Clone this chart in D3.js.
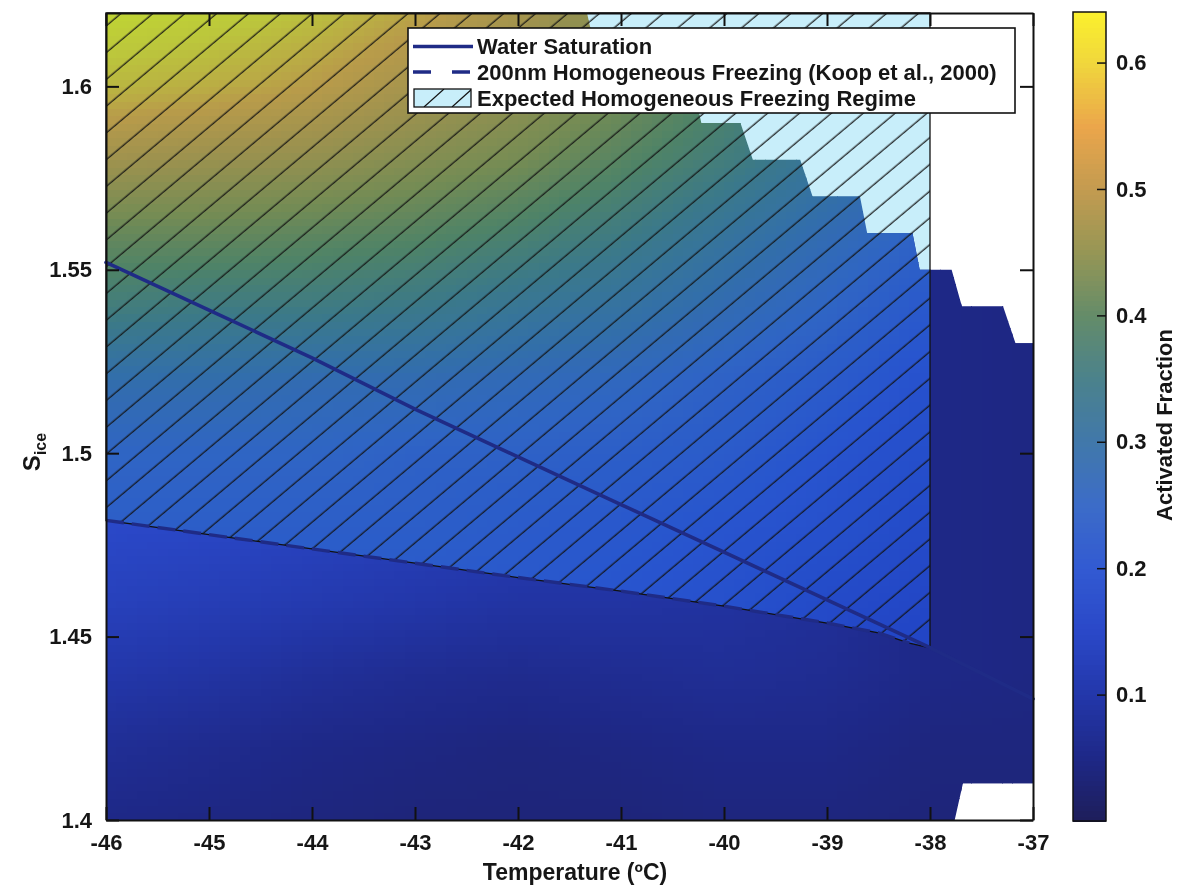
<!DOCTYPE html>
<html>
<head>
<meta charset="utf-8">
<script src="https://cdn.jsdelivr.net/npm/d3@7"></script>
<style>
  html, body { margin: 0; padding: 0; background: #ffffff; }
  svg { display: block; isolation: isolate; }
  text { font-family: "Liberation Sans", Arial, Helvetica, sans-serif; font-weight: bold; fill: #161616; }
</style>
</head>
<body>
<svg id="chart" width="1178" height="885"></svg>
<script>
// ---------------- data ----------------
// Node grid of the activated-fraction field (temperature in °C, ice saturation ratio)
const gridT = [-46, -45, -44, -43, -42, -41, -40, -39, -38, -37];
const gridS = [1.40, 1.42, 1.44, 1.46, 1.48, 1.50, 1.52, 1.54, 1.56];
// Activated fraction outside the homogeneous freezing regime (one row per gridS value)
const afOutside = [
  [0.050, 0.045, 0.040, 0.035, 0.035, 0.035, 0.040, 0.040, 0.035, 0.035],
  [0.070, 0.060, 0.050, 0.045, 0.040, 0.045, 0.050, 0.050, 0.040, 0.040],
  [0.100, 0.090, 0.075, 0.065, 0.060, 0.065, 0.070, 0.065, 0.050, 0.045],
  [0.130, 0.120, 0.110, 0.100, 0.090, 0.090, 0.085, 0.075, 0.050, 0.045],
  [0.150, 0.145, 0.135, 0.125, 0.115, 0.105, 0.095, 0.080, 0.050, 0.045],
  [0.170, 0.160, 0.150, 0.140, 0.130, 0.120, 0.105, 0.090, 0.050, 0.045],
  [0.180, 0.170, 0.160, 0.150, 0.140, 0.130, 0.110, 0.090, 0.050, 0.045],
  [0.190, 0.180, 0.170, 0.160, 0.150, 0.140, 0.120, 0.090, 0.050, 0.045],
  [0.200, 0.190, 0.180, 0.170, 0.160, 0.150, 0.130, 0.100, 0.050, 0.045]
];
// Activated fraction inside the expected homogeneous freezing regime
const regimeT = [-46, -45, -44, -43, -42, -41, -40, -39, -38];
const regimeS = [1.44, 1.46, 1.48, 1.50, 1.52, 1.54, 1.56, 1.58, 1.60, 1.62];
const afRegime = [
  [0.19, 0.19, 0.19, 0.19, 0.19, 0.18, 0.17, 0.16, 0.15],
  [0.21, 0.21, 0.21, 0.21, 0.21, 0.20, 0.19, 0.17, 0.16],
  [0.23, 0.23, 0.23, 0.23, 0.22, 0.21, 0.20, 0.19, 0.17],
  [0.25, 0.25, 0.25, 0.24, 0.24, 0.23, 0.22, 0.20, 0.18],
  [0.29, 0.29, 0.28, 0.28, 0.27, 0.26, 0.24, 0.22, 0.19],
  [0.37, 0.36, 0.36, 0.35, 0.33, 0.31, 0.28, 0.25, 0.21],
  [0.43, 0.43, 0.42, 0.41, 0.39, 0.36, 0.32, 0.28, 0.24],
  [0.51, 0.50, 0.49, 0.47, 0.45, 0.41, 0.37, 0.32, 0.28],
  [0.58, 0.57, 0.55, 0.52, 0.49, 0.45, 0.40, 0.35, 0.31],
  [0.62, 0.61, 0.59, 0.56, 0.52, 0.47, 0.41, 0.36, 0.32]
];

// Upper edge of the measured domain: one step per ice-saturation level
const stepS      = [1.62, 1.61, 1.60, 1.59, 1.58, 1.57, 1.56, 1.55, 1.54, 1.53];
const stepStartT = [-46.00, -41.25, -40.74, -40.22, -39.72, -39.14, -38.61, -38.10, -37.69, -37.17];
const stepEndT   = [-41.33, -40.82, -40.30, -39.84, -39.26, -38.68, -38.17, -37.79, -37.29, -37.00];
// Lower-right corner without measurements
const notchT = [-37.00, -37.68, -37.76];
const notchS = [1.41, 1.41, 1.40];

// Water saturation line
const wsT = [-46, -45, -44, -43, -42, -41, -40, -39, -38, -37];
const wsS = [1.552, 1.539, 1.526, 1.512, 1.499, 1.486, 1.473, 1.460, 1.447, 1.433];

// 200 nm homogeneous freezing threshold (Koop et al., 2000)
const koopT = [-46, -45, -44, -43, -42, -41, -40, -39, -38.5, -38.2];
const koopS = [1.4817, 1.4778, 1.4739, 1.4700, 1.4661, 1.4624, 1.4583, 1.4537, 1.4510, 1.4482];
// Warm limit of the homogeneous freezing regime
const regimeWarmT = -38;
const regimeWarmBottomS = 1.4469;

// Axis ticks
const xTicks = [-46, -45, -44, -43, -42, -41, -40, -39, -38, -37];
const yTicks = [1.40, 1.45, 1.50, 1.55, 1.60];
const cbTicks = [0.1, 0.2, 0.3, 0.4, 0.5, 0.6];

// Colour map (value stops and colours)
const cmapValues = [0.00, 0.05, 0.10, 0.15, 0.20, 0.25, 0.30, 0.35, 0.40, 0.45, 0.50, 0.55, 0.60, 0.64];
const cmapColors = ["#1e1e5a", "#1e2887", "#2337aa", "#2a48c8", "#325ad2", "#3c6cc8", "#4178aa",
                    "#4b828c", "#648c69", "#969655", "#c39b50", "#eba64b", "#f0d73c", "#faf02d"];

const legendLabels = ["Water Saturation", "200nm Homogeneous Freezing (Koop et al., 2000)", "Expected Homogeneous Freezing Regime"];

// ---------------- layout ----------------
const svg = d3.select("#chart");
const plot = { left: 106, right: 1033, top: 13, bottom: 820 };
const x = d3.scaleLinear().domain([-46, -37]).range([plot.left, plot.right]);
const y = d3.scaleLinear().domain([1.40, 1.62]).range([plot.bottom, plot.top]);
const color = d3.scaleLinear().domain(cmapValues).range(cmapColors)
  .interpolate(d3.interpolateRgb).clamp(true);

const defs = svg.append("defs");
const lineGen = d3.line().x(d => x(d[0])).y(d => y(d[1]));

// measured-domain outline
const domainPts = [];
stepS.forEach((s, i) => { domainPts.push([stepStartT[i], s]); domainPts.push([stepEndT[i], s]); });
notchT.forEach((t, i) => domainPts.push([t, notchS[i]]));
domainPts.push([-46, 1.40]);
defs.append("clipPath").attr("id", "domainClip")
  .append("path").attr("d", lineGen(domainPts) + "Z");

// regime outline: top of axes, warm limit, then the Koop curve back to -46 °C
const regimePts = [[-46, 1.62], [regimeWarmT, 1.62], [regimeWarmT, regimeWarmBottomS]];
for (let i = koopT.length - 1; i >= 0; i--) regimePts.push([koopT[i], koopS[i]]);
const regimePath = lineGen(regimePts) + "Z";
defs.append("clipPath").attr("id", "regimeClip").append("path").attr("d", regimePath);

// hatch pattern
const hatch = defs.append("pattern").attr("id", "hatch")
  .attr("patternUnits", "userSpaceOnUse").attr("width", 12).attr("height", 20.5)
  .attr("patternTransform", "translate(106,13) rotate(-40)");
hatch.append("line").attr("x1", -1).attr("x2", 13).attr("y1", 10).attr("y2", 10)
  .attr("stroke", "#111").attr("stroke-width", 1.2);

// bilinear lookup on a node grid
function bilinear(tArr, sArr, grid, t, s) {
  let i = Math.max(0, Math.min(tArr.length - 2, d3.bisectRight(tArr, t) - 1));
  let j = Math.max(0, Math.min(sArr.length - 2, d3.bisectRight(sArr, s) - 1));
  const ft = Math.max(0, Math.min(1, (t - tArr[i]) / (tArr[i + 1] - tArr[i])));
  const fs = Math.max(0, Math.min(1, (s - sArr[j]) / (sArr[j + 1] - sArr[j])));
  const a = grid[j][i] * (1 - ft) + grid[j][i + 1] * ft;
  const b = grid[j + 1][i] * (1 - ft) + grid[j + 1][i + 1] * ft;
  return a * (1 - fs) + b * fs;
}

// interpolated shading as small cells
function shadeCells(t0, t1, s0, s1, dT, dS, tArr, sArr, grid) {
  const cells = [];
  const nT = Math.round((t1 - t0) / dT), nS = Math.round((s1 - s0) / dS);
  for (let a = 0; a < nT; a++) {
    for (let b = 0; b < nS; b++) {
      const ta = t0 + a * dT, sb = s0 + b * dS;
      cells.push({ t: ta, s: sb, v: bilinear(tArr, sArr, grid, ta + dT / 2, sb + dS / 2) });
    }
  }
  return cells;
}
const dT = 0.1, dS = 0.002;
function drawCells(g, cells) {
  g.selectAll("rect").data(cells).join("rect")
    .attr("x", d => x(d.t))
    .attr("y", d => y(d.s + dS))
    .attr("width", d => x(d.t + dT) - x(d.t) + 0.6)
    .attr("height", d => y(d.s) - y(d.s + dS) + 0.6)
    .attr("fill", d => color(d.v))
    .attr("shape-rendering", "crispEdges");
}

const field = svg.append("g").attr("clip-path", "url(#domainClip)");
drawCells(field.append("g"), shadeCells(-46, -37, 1.40, 1.56, dT, dS, gridT, gridS, afOutside));
drawCells(field.append("g").attr("clip-path", "url(#regimeClip)"),
  shadeCells(-46, -38, 1.44, 1.62, dT, dS, regimeT, regimeS, afRegime));

// regime patch: translucent light-cyan face, hatching, outline
svg.append("path").attr("d", regimePath).attr("fill", "#c8eefa")
  .style("mix-blend-mode", "multiply");
svg.append("path").attr("d", regimePath).attr("fill", "url(#hatch)");
svg.append("path").attr("d", regimePath).attr("fill", "none")
  .attr("stroke", "#111").attr("stroke-width", 1.3);

// threshold curves
const lineBlue = "#1f2b86";
svg.append("path").datum(koopT.map((t, i) => [t, koopS[i]]))
  .attr("d", lineGen).attr("fill", "none").attr("stroke", lineBlue)
  .attr("stroke-width", 3.4).attr("stroke-dasharray", "18,8");
svg.append("path").datum(wsT.map((t, i) => [t, wsS[i]]))
  .attr("d", lineGen).attr("fill", "none").attr("stroke", lineBlue)
  .attr("stroke-width", 3.6).attr("stroke-linecap", "round");

// ---------------- axes ----------------
const axisStyle = g => {
  g.select(".domain").attr("stroke", "#111").attr("stroke-width", 2);
  g.selectAll(".tick line").attr("stroke", "#111").attr("stroke-width", 2);
  g.selectAll(".tick text").attr("font-size", 22).attr("fill", "#161616");
};
svg.append("g").attr("transform", `translate(0,${plot.bottom})`)
  .call(d3.axisBottom(x).tickValues(xTicks).tickFormat(d => String(d))
    .tickSizeInner(-13).tickSizeOuter(0).tickPadding(14))
  .call(axisStyle);
svg.append("g").attr("transform", `translate(0,${plot.top})`)
  .call(d3.axisTop(x).tickValues(xTicks).tickFormat("").tickSizeInner(-13).tickSizeOuter(0))
  .call(axisStyle);
svg.append("g").attr("transform", `translate(${plot.left},0)`)
  .call(d3.axisLeft(y).tickValues(yTicks).tickFormat(d => String(+d.toFixed(2)))
    .tickSizeInner(-13).tickSizeOuter(0).tickPadding(14))
  .call(axisStyle);
svg.append("g").attr("transform", `translate(${plot.right},0)`)
  .call(d3.axisRight(y).tickValues(yTicks).tickFormat("").tickSizeInner(-13).tickSizeOuter(0))
  .call(axisStyle);

// axis titles
svg.append("text").attr("x", 575).attr("y", 880).attr("text-anchor", "middle")
  .attr("font-size", 23).text("Temperature (ºC)");
const yTitle = svg.append("text").attr("transform", "translate(40,452) rotate(-90)")
  .attr("text-anchor", "middle").attr("font-size", 24);
yTitle.append("tspan").text("S");
yTitle.append("tspan").attr("font-size", 16).attr("dy", 6).text("ice");

// ---------------- legend ----------------
const legend = svg.append("g");
legend.append("rect").attr("x", 408).attr("y", 28).attr("width", 607).attr("height", 85)
  .attr("fill", "#fff").attr("stroke", "#111").attr("stroke-width", 1.6);
const rowY = [46.5, 72, 98];
legend.append("line").attr("x1", 413).attr("x2", 473).attr("y1", rowY[0]).attr("y2", rowY[0])
  .attr("stroke", lineBlue).attr("stroke-width", 3.4);
legend.append("line").attr("x1", 413).attr("x2", 473).attr("y1", rowY[1]).attr("y2", rowY[1])
  .attr("stroke", lineBlue).attr("stroke-width", 3.4).attr("stroke-dasharray", "18,21");
defs.append("clipPath").attr("id", "keyClip").append("rect")
  .attr("x", 414).attr("y", 89).attr("width", 57).attr("height", 18);
legend.append("rect").attr("x", 414).attr("y", 89).attr("width", 57).attr("height", 18)
  .attr("fill", "#c8eefa");
const keyHatch = legend.append("g").attr("clip-path", "url(#keyClip)");
[424, 452].forEach(x0 => keyHatch.append("line")
  .attr("x1", x0).attr("y1", 107).attr("x2", x0 + 20).attr("y2", 89)
  .attr("stroke", "#111").attr("stroke-width", 1.2));
legend.append("rect").attr("x", 414).attr("y", 89).attr("width", 57).attr("height", 18)
  .attr("fill", "none").attr("stroke", "#111").attr("stroke-width", 1.3);
legend.selectAll("text.lbl").data(legendLabels).join("text").attr("class", "lbl")
  .attr("x", 477).attr("y", (d, i) => rowY[i]).attr("dy", "0.36em")
  .attr("font-size", 22).text(d => d);

// ---------------- colour bar ----------------
const cb = { left: 1073, right: 1106, top: 12, bottom: 821 };
const cbY = d3.scaleLinear().domain([0, 0.64]).range([cb.bottom, cb.top]);
const slices = d3.range(0, 0.64, 0.004);
svg.append("g").selectAll("rect").data(slices).join("rect")
  .attr("x", cb.left).attr("width", cb.right - cb.left)
  .attr("y", d => cbY(Math.min(0.64, d + 0.004)))
  .attr("height", d => cbY(d) - cbY(Math.min(0.64, d + 0.004)) + 0.6)
  .attr("fill", d => color(d + 0.002)).attr("shape-rendering", "crispEdges");
svg.append("rect").attr("x", cb.left).attr("y", cb.top)
  .attr("width", cb.right - cb.left).attr("height", cb.bottom - cb.top)
  .attr("fill", "none").attr("stroke", "#111").attr("stroke-width", 1.5);
svg.append("g").attr("transform", `translate(${cb.right},0)`)
  .call(d3.axisRight(cbY).tickValues(cbTicks).tickFormat(d => d.toFixed(1))
    .tickSizeInner(-9).tickSizeOuter(0).tickPadding(10))
  .call(g => g.select(".domain").remove())
  .call(g => g.selectAll(".tick line").attr("stroke", "#111").attr("stroke-width", 1.5))
  .call(g => g.selectAll(".tick text").attr("font-size", 22).attr("fill", "#161616"));
svg.append("text").attr("transform", "translate(1172,425) rotate(-90)")
  .attr("text-anchor", "middle").attr("font-size", 22).text("Activated Fraction");
</script>
</body>
</html>
